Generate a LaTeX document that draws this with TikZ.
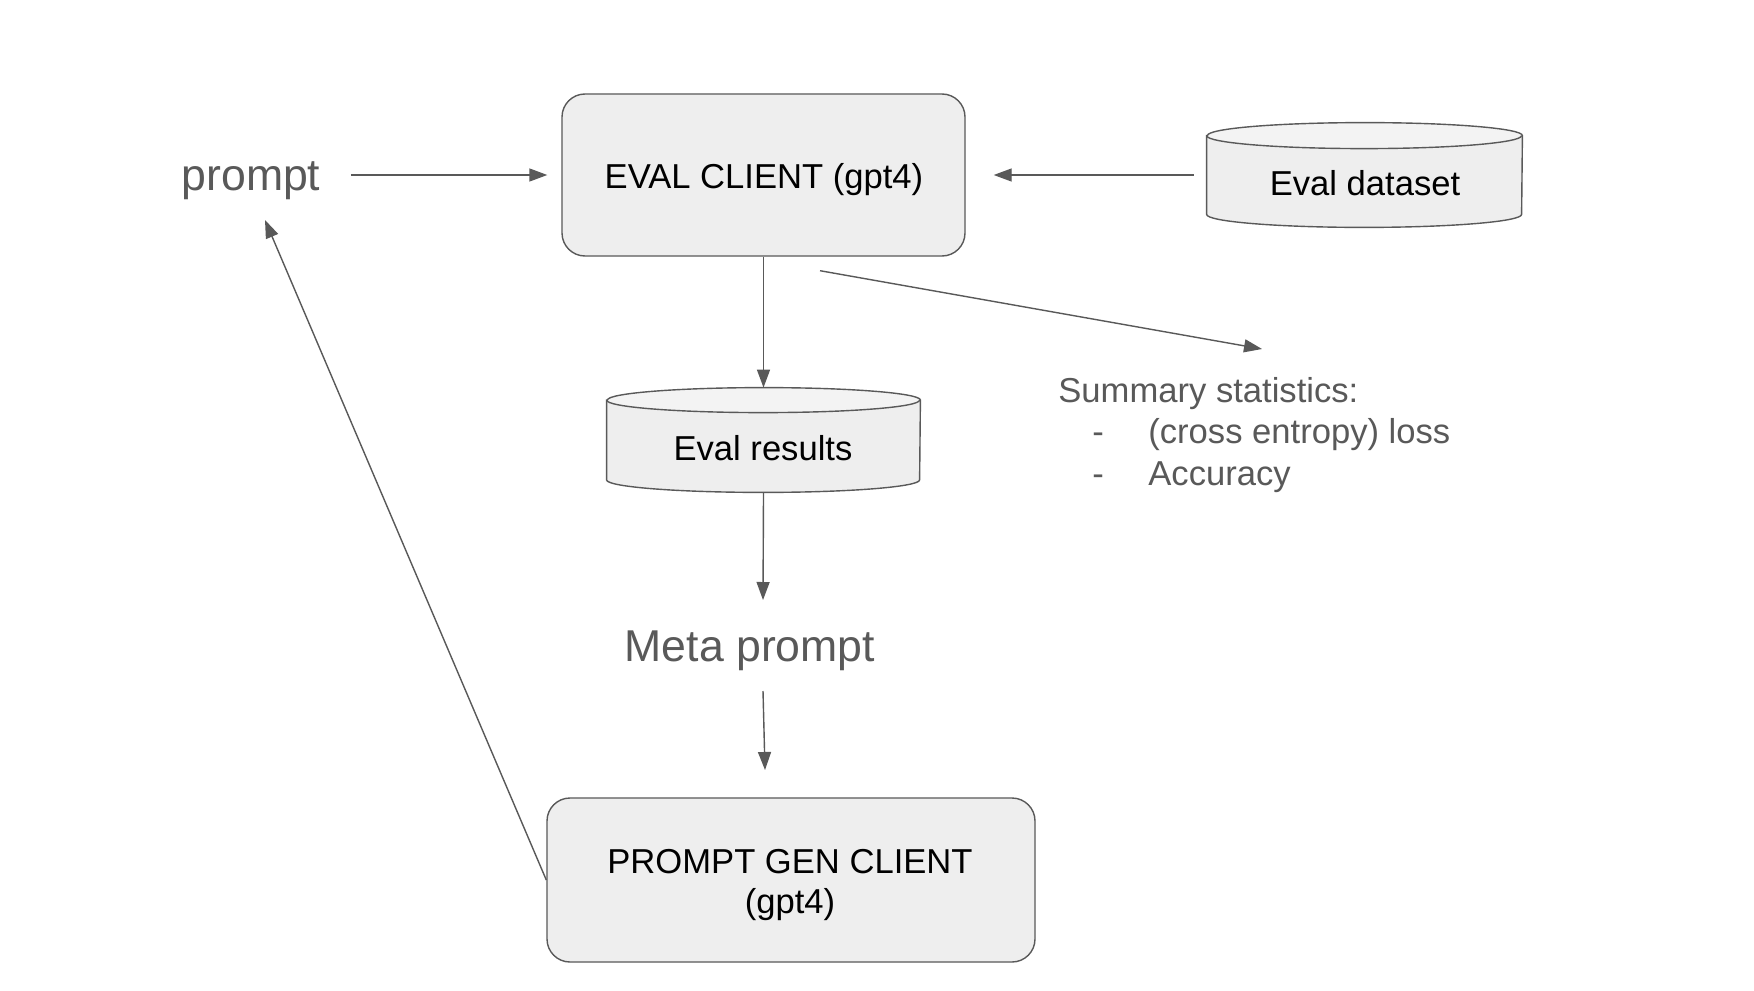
\documentclass[tikz,border=0pt]{standalone}
\usepackage{fontspec}
\setmainfont{Liberation Sans}
\usetikzlibrary{arrows.meta,calc}
\definecolor{edge}{HTML}{595959}
\definecolor{boxfill}{HTML}{EEEEEE}
\definecolor{topfill}{HTML}{F3F3F3}
\newcommand\drawcyl[3]{%
  \fill[boxfill] ([yshift=-#3]#1.north west) -- ([yshift=#3]#1.south west)
    arc[start angle=180,end angle=360,x radius=#2,y radius=#3]
    -- ([yshift=-#3]#1.north east)
    arc[start angle=0,end angle=180,x radius=#2,y radius=#3] -- cycle;
  \fill[topfill] ([yshift=-#3]#1.north) ellipse[x radius=#2,y radius=#3];
  \draw[edge,line width=0.7pt] ([yshift=-#3]#1.north west) -- ([yshift=#3]#1.south west)
    arc[start angle=180,end angle=360,x radius=#2,y radius=#3]
    -- ([yshift=-#3]#1.north east)
    arc[start angle=0,end angle=180,x radius=#2,y radius=#3] -- cycle;
  \draw[edge,line width=0.7pt] ([yshift=-#3]#1.north west)
    arc[start angle=180,end angle=360,x radius=#2,y radius=#3];
}
\begin{document}
\begin{tikzpicture}[x=0.5pt,y=-0.5pt,
  roundbox/.style={draw=edge, fill=boxfill, line width=0.7pt, rounded corners=11.5pt, inner sep=0pt},
  cylbox/.style={inner sep=0pt},
  boxtext/.style={font=\fontsize{17.3pt}{20pt}\selectfont, text=black, inner sep=0pt, anchor=base},
  bigtext/.style={font=\fontsize{22.3pt}{26pt}\selectfont, text=edge, inner sep=0pt, anchor=base},
  sumtext/.style={font=\fontsize{17.3pt}{20pt}\selectfont, text=edge, inner sep=0pt, anchor=base west},
  arr/.style={draw=edge, line width=0.7pt, -{Triangle[length=9pt,width=6.5pt]}}]
\useasboundingbox (0,0) rectangle (1754,990);
\fill[white] (0,0) rectangle (1754,990);

% shapes
\node[roundbox, minimum width=201.5pt, minimum height=81pt] (eval) at (763.5,175) {};
\node[roundbox, minimum width=244pt, minimum height=82pt] (gen) at (791,880) {};
\node[cylbox, minimum width=157.5pt, minimum height=52pt] (dataset) at (1364.5,175) {};
\node[cylbox, minimum width=156.5pt, minimum height=52pt] (results) at (763.5,440) {};
\drawcyl{dataset}{78.75pt}{6.5pt}
\drawcyl{results}{78.25pt}{6.25pt}

% texts
\node[boxtext] (evaltxt) at (764,188) {EVAL CLIENT (gpt4)};
\node[boxtext] (datatxt) at (1365,195) {Eval dataset};
\node[boxtext] (restxt) at (763,460) {Eval results};
\node[boxtext] (gentxt1) at (790,873) {PROMPT GEN CLIENT};
\node[boxtext] (gentxt2) at (790,913) {(gpt4)};
\node[bigtext] (prompt) at (251,190) {prompt};
\node[bigtext] (meta) at (750,661) {Meta prompt};
\node[sumtext] (sum1) at (1058,402) {Summary statistics:};
\node[sumtext] (sum2) at (1092,443) {\makebox[28pt][l]{-}(cross entropy) loss};
\node[sumtext] (sum3) at (1092,485) {\makebox[28pt][l]{-}Accuracy};

% connector ends
\coordinate (statsIn) at (1262,349);
\coordinate (metaIn) at (763,600);
\coordinate (metaOut) at (763,691);
\coordinate (genIn) at (765,770);
\coordinate (promptIn) at (265,220);

% connectors
\draw[arr] ([xshift=15pt]prompt.east |- eval.west) -- ([xshift=-7pt]eval.west);
\draw[arr] ([xshift=-6.5pt]dataset.west) -- ([xshift=14pt]eval.east);
\draw[arr] (eval.south) -- (results.north);
\draw[arr] ([shift={(28.25pt,-7pt)}]eval.south) -- (statsIn);
\draw[arr] (results.south) -- (metaIn);
\draw[arr] (metaOut) -- (genIn);
\draw[arr] (gen.west) -- (promptIn);
\end{tikzpicture}
\end{document}
